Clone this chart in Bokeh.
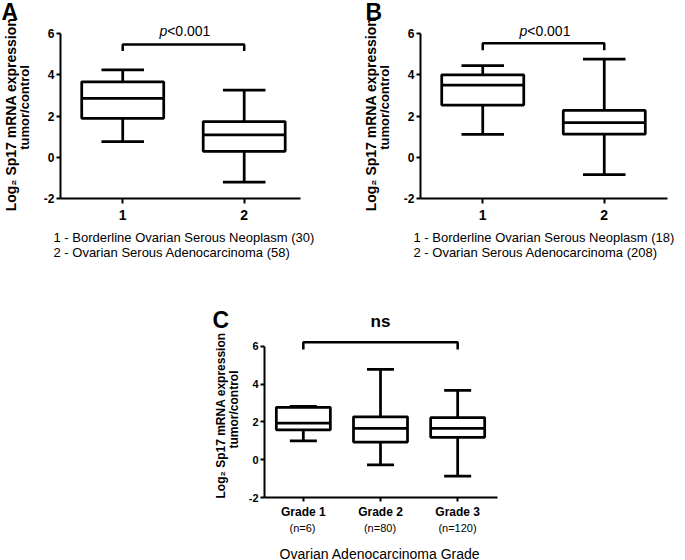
import math
from bokeh.plotting import figure
from bokeh.models import Range1d, FixedTicker, Label, Spacer
from bokeh.layouts import column, row
from bokeh.embed import file_html
from bokeh.resources import INLINE

# ---------------- data ----------------
y_ticks = [-2, 0, 2, 4, 6]
y_label_1 = "Log\u2082 Sp17 mRNA expression"
y_label_2 = "tumor/control"

a_groups = [1, 2]
a_lower = [0.76, -1.21]
a_q1 = [1.89, 0.29]
a_median = [2.85, 1.08]
a_q3 = [3.66, 1.73]
a_upper = [4.24, 3.26]
a_legend = ["1 - Borderline Ovarian Serous Neoplasm (30)",
            "2 - Ovarian Serous Adenocarcinoma (58)"]
a_bracket = [5.47, 5.15]
a_sig = "<0.001"

b_groups = [1, 2]
b_lower = [1.11, -0.84]
b_q1 = [2.53, 1.12]
b_median = [3.50, 1.68]
b_q3 = [4.00, 2.27]
b_upper = [4.44, 4.76]
b_legend = ["1 - Borderline Ovarian Serous Neoplasm (18)",
            "2 - Ovarian Serous Adenocarcinoma (208)"]
b_bracket = [5.53, 5.19]
b_sig = "<0.001"

c_groups = [1, 2, 3]
c_tick_labels = ["Grade 1", "Grade 2", "Grade 3"]
c_n_labels = ["(n=6)", "(n=80)", "(n=120)"]
c_lower = [0.99, -0.28, -0.87]
c_q1 = [1.58, 0.93, 1.18]
c_median = [1.93, 1.66, 1.66]
c_q3 = [2.77, 2.27, 2.23]
c_upper = [2.82, 4.78, 3.67]
c_bracket = [6.21, 5.83]
c_sig = "ns"
c_xlabel = "Ovarian Adenocarcinoma Grade"

FONT = "Liberation Sans"


def base_fig(w, h, xr, yr, **kw):
    p = figure(width=w, height=h, x_range=xr, y_range=yr,
               output_backend="svg", toolbar_location=None, **kw)
    p.frame_align = False
    p.outline_line_color = None
    p.background_fill_color = "white"
    p.border_fill_color = "white"
    p.xgrid.visible = False
    p.ygrid.visible = False
    return p


def canvas(w, h, xr=None, left=0, right=0):
    """A blank figure that only holds text (y measured in pixels from its top)."""
    if xr is None:
        xr = Range1d(0, w)
    return base_fig(w, h, xr, Range1d(h, 0), x_axis_location=None,
                    y_axis_location=None, min_border_left=left,
                    min_border_right=right, min_border_top=0,
                    min_border_bottom=0)


def put(p, x, y, txt, size, style="normal", align="center", angle=0.0):
    p.add_layout(Label(x=x, y=y, text=txt, text_font=FONT, text_font_size=size,
                       text_font_style=style, text_align=align,
                       text_baseline="middle", angle=angle, text_color="black"))


class Panel:
    """Main plot; geometry given in page pixels."""
    def __init__(self, page_x, page_y, width, height, fl, ft, fr, fb, y6, ym2,
                 x_first, first_px, unit_px):
        self.fl, self.fb = fl, fb
        self.sy = (ym2 - y6) / (y_ticks[-1] - y_ticks[0])
        self.sx = unit_px
        self.x_start = x_first - (first_px - fl) / unit_px
        self.x_end = self.x_start + (fr - fl) / unit_px
        y_end = y_ticks[-1] + (y6 - ft) / self.sy
        self.xr = Range1d(self.x_start, self.x_end)
        self.p = base_fig(width, height, self.xr, Range1d(y_ticks[0], y_end),
                          min_border_left=fl - page_x, min_border_top=ft - page_y,
                          min_border_right=page_x + width - fr,
                          min_border_bottom=page_y + height - fb)

    def dx(self, page_x):
        return self.x_start + (page_x - self.fl) / self.sx

    def dy(self, page_y):
        return y_ticks[0] + (self.fb - page_y) / self.sy


def style_axes(panel, ytick_size, xtick_size, xticks, overrides, xstand, xout):
    p = panel.p
    for ax in (p.xaxis, p.yaxis):
        ax.axis_line_width = 2
        ax.axis_line_color = "black"
        ax.major_tick_line_width = 2
        ax.major_tick_line_color = "black"
        ax.minor_tick_line_color = None
        ax.major_tick_in = 0
        ax.major_label_text_font = FONT
        ax.major_label_text_font_style = "bold"
        ax.major_label_text_color = "black"
    p.yaxis.ticker = FixedTicker(ticks=y_ticks)
    p.yaxis.bounds = (y_ticks[0], y_ticks[-1])
    p.yaxis.major_label_overrides = {t: str(t) for t in y_ticks}
    p.yaxis.major_tick_out = 4
    p.yaxis.major_label_standoff = 2
    p.yaxis.major_label_text_font_size = ytick_size
    p.xaxis.ticker = FixedTicker(ticks=xticks)
    p.xaxis.major_tick_out = xout
    p.xaxis.major_label_standoff = xstand
    p.xaxis.major_label_text_font_size = xtick_size
    p.xaxis.major_label_overrides = overrides


def draw_boxes(p, xs, lower, q1, med, q3, upper, box_w, cap_w, lw):
    p.segment(x0=xs, y0=q3, x1=xs, y1=upper, line_color="black", line_width=lw)
    p.segment(x0=xs, y0=lower, x1=xs, y1=q1, line_color="black", line_width=lw)
    cl = [x - cap_w / 2 for x in xs]
    cr = [x + cap_w / 2 for x in xs]
    p.segment(x0=cl, y0=upper, x1=cr, y1=upper, line_color="black", line_width=lw)
    p.segment(x0=cl, y0=lower, x1=cr, y1=lower, line_color="black", line_width=lw)
    p.vbar(x=xs, width=box_w, top=q3, bottom=q1, fill_color="white",
           line_color="black", line_width=lw)
    bl = [x - box_w / 2 for x in xs]
    br = [x + box_w / 2 for x in xs]
    p.segment(x0=bl, y0=med, x1=br, y1=med, line_color="black", line_width=lw)


def draw_bracket(p, x0, x1, levels, lw):
    top, end = levels
    p.line(x=[x0, x0, x1, x1], y=[end, top, top, end], line_color="black",
           line_width=lw)


# ---------------- panel A ----------------
A = Panel(40, 0, 308, 228, 57, 0, 300, 198, 33, 198, 1, 120, 123)
style_axes(A, "12px", "14px", a_groups, {g: str(g) for g in a_groups}, 6, 5)
draw_boxes(A.p, a_groups, a_lower, a_q1, a_median, a_q3, a_upper, 0.675, 0.35, 2.75)
draw_bracket(A.p, a_groups[0], a_groups[1], a_bracket, 2.5)
put(A.p, A.dx(165), A.dy(30), "p", "14px", "italic", align="right")
put(A.p, A.dx(165), A.dy(30), a_sig, "14px", align="left")

stripA = canvas(40, 276)            # page x 0..40, y 0..276
put(stripA, 1, 11.5, "A", "23px", "bold", align="left")
put(stripA, 10, 114, y_label_1, "14px", "bold", angle=math.pi / 2)
put(stripA, 24, 107, y_label_2, "13px", "bold", angle=math.pi / 2)

textA = canvas(308, 48)             # page x 40..348, y 228..276
put(textA, 13, 9, a_legend[0], "13px", align="left")
put(textA, 13, 24, a_legend[1], "13px", align="left")

# ---------------- panel B ----------------
B = Panel(400, 0, 285, 228, 417, 0, 667, 198, 33, 198, 1, 480, 123)
style_axes(B, "12px", "14px", b_groups, {g: str(g) for g in b_groups}, 6, 5)
draw_boxes(B.p, b_groups, b_lower, b_q1, b_median, b_q3, b_upper, 0.675, 0.35, 2.75)
draw_bracket(B.p, b_groups[0], b_groups[1], b_bracket, 2.5)
put(B.p, B.dx(525), B.dy(30), "p", "14px", "italic", align="right")
put(B.p, B.dx(525), B.dy(30), b_sig, "14px", align="left")

stripB = canvas(52, 276)            # page x 348..400
put(stripB, 17, 11.5, "B", "23px", "bold", align="left")
put(stripB, 22, 114, y_label_1, "14px", "bold", angle=math.pi / 2)
put(stripB, 36, 107, y_label_2, "13px", "bold", angle=math.pi / 2)

textB = canvas(285, 48)             # page x 400..685, y 228..276
put(textB, 13, 9, b_legend[0], "13px", align="left")
put(textB, 13, 24, b_legend[1], "13px", align="left")

# ---------------- panel C ----------------
C = Panel(245, 276, 292, 245, 263, 276, 497, 501, 347, 501, 1, 302, 77.5)
style_axes(C, "11px", "12px", c_groups,
           {g: t for g, t in zip(c_groups, c_tick_labels)}, 3, 4)
draw_boxes(C.p, c_groups, c_lower, c_q1, c_median, c_q3, c_upper, 0.70, 0.35, 2.75)
draw_bracket(C.p, c_groups[0], c_groups[-1], c_bracket, 2.5)
put(C.p, c_groups[1], C.dy(322), c_sig, "17px", "bold")

stripC = canvas(45, 284)            # page x 200..245, y 276..560
put(stripC, 12, 43, "C", "23px", "bold", align="left")
put(stripC, 20, 139, y_label_1, "12px", "bold", angle=math.pi / 2)
put(stripC, 33, 133, y_label_2, "12px", "bold", angle=math.pi / 2)

textC = canvas(292, 39, xr=C.xr, left=18, right=40)   # page y 521..560
for g, t in zip(c_groups, c_n_labels):
    put(textC, g, 6, t, "11px")
put(textC, c_groups[1], 32, c_xlabel, "14px")

layout = column(
    row(stripA, column(A.p, textA), stripB, column(B.p, textB)),
    row(Spacer(width=200, height=284), stripC, column(C.p, textC)),
)

open("out.html", "w").write(file_html(layout, INLINE))
